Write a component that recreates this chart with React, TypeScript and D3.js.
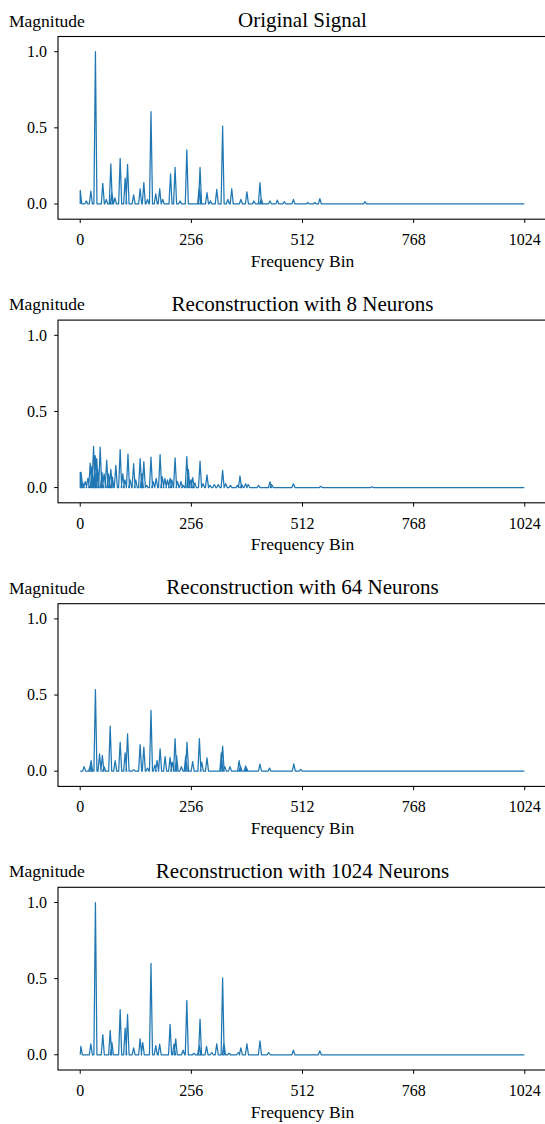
import React, { useEffect, useRef } from 'react';
import * as d3 from 'd3';

// panel titles and shared ticks
const titles = [
  'Original Signal',
  'Reconstruction with 8 Neurons',
  'Reconstruction with 64 Neurons',
  'Reconstruction with 1024 Neurons',
];
const xTicks = [0, 256, 512, 768, 1024];
const yTicks = [0, 0.5, 1.0];
const lastBin = 1023;

// peak bins / magnitudes
const originalBins = [0, 14, 24.5, 35, 52, 60, 70.5, 73, 80, 92, 103.5, 109, 123, 138, 146.5, 155, 163, 174, 183, 190, 208, 218.5, 230, 245.5, 274, 276, 292, 300, 314.5, 328, 340, 349, 370, 384, 400, 414, 417, 437, 454, 470, 491, 524, 540, 552, 656];
const originalMags = [0.09, 0.02, 0.085, 1.0, 0.136, 0.03, 0.263, 0.08, 0.04, 0.30, 0.17, 0.26, 0.06, 0.10, 0.14, 0.03, 0.606, 0.066, 0.10, 0.03, 0.197, 0.24, 0.02, 0.355, 0.114, 0.24, 0.075, 0.02, 0.096, 0.512, 0.03, 0.10, 0.03, 0.079, 0.02, 0.14, 0.035, 0.02, 0.025, 0.015, 0.03, 0.01, 0.01, 0.035, 0.015];

const n8Bins = [0, 2, 6, 11.5, 17.6, 23, 27, 30.7, 34.5, 38, 40, 46, 50, 55, 61, 65, 70.5, 74, 82, 92, 98, 103, 110, 115, 123, 128, 138, 142, 146.5, 153, 163, 168, 175, 184, 189, 195, 201, 207, 211, 218.5, 224, 232, 237, 245.5, 249, 255, 259, 264, 276, 283, 292, 299, 309, 318, 328, 335, 346, 362, 368, 372, 381, 387, 411, 437, 441, 491, 554, 672];
const n8Mags = [0.10, 0.10, 0.03, 0.04, 0.06, 0.16, 0.14, 0.27, 0.21, 0.19, 0.12, 0.266, 0.10, 0.09, 0.18, 0.09, 0.12, 0.07, 0.146, 0.25, 0.09, 0.05, 0.22, 0.05, 0.157, 0.05, 0.19, 0.09, 0.17, 0.015, 0.20, 0.04, 0.06, 0.217, 0.07, 0.06, 0.05, 0.06, 0.05, 0.195, 0.04, 0.04, 0.015, 0.204, 0.12, 0.05, 0.065, 0.03, 0.173, 0.025, 0.083, 0.015, 0.02, 0.02, 0.113, 0.025, 0.015, 0.015, 0.076, 0.02, 0.025, 0.02, 0.015, 0.037, 0.02, 0.025, 0.008, 0.005];

const n64Bins = [9, 23, 25, 35, 44.5, 51, 55, 69, 80.5, 92, 103.5, 109, 123, 138, 146.5, 155, 163, 172, 177, 184, 195.5, 207, 212, 218.5, 222, 233, 243, 246, 259, 274.5, 280, 292, 325, 328, 333, 345, 366, 369, 381, 383, 414, 436, 492, 508];
const n64Mags = [0.03, 0.037, 0.07, 0.536, 0.114, 0.103, 0.03, 0.296, 0.07, 0.19, 0.12, 0.245, 0.01, 0.175, 0.158, 0.02, 0.40, 0.04, 0.07, 0.147, 0.096, 0.09, 0.06, 0.213, 0.10, 0.03, 0.10, 0.19, 0.063, 0.213, 0.06, 0.088, 0.12, 0.165, 0.03, 0.03, 0.07, 0.035, 0.035, 0.02, 0.046, 0.02, 0.048, 0.012];

const n1024Bins = [1.5, 24.5, 35, 52, 69, 73, 92, 103.5, 109, 123, 138, 144, 163, 174, 183, 207, 216, 220, 237, 245.5, 262, 274, 276, 291, 303, 314.5, 328, 331, 343, 364, 370, 384, 414, 434, 491, 552];
const n1024Mags = [0.055, 0.072, 1.0, 0.133, 0.16, 0.08, 0.297, 0.175, 0.265, 0.045, 0.105, 0.08, 0.60, 0.06, 0.07, 0.20, 0.07, 0.105, 0.03, 0.356, 0.01, 0.065, 0.234, 0.055, 0.015, 0.072, 0.505, 0.08, 0.01, 0.015, 0.045, 0.072, 0.092, 0.015, 0.03, 0.025];

const panelBins = [originalBins, n8Bins, n64Bins, n1024Bins];
const panelMags = [originalMags, n8Mags, n64Mags, n1024Mags];

function App() {
  const ref = useRef<SVGSVGElement>(null);

  useEffect(() => {
    if (!ref.current) return;
    const svg = d3.select(ref.current);
    svg.selectAll('*').remove();

    const left = 58, right = 547;
    const firstTop = 36.5, step = 283.6, plotH = 182.7;
    const halfWidth = 3.5;

    const x = d3.scaleLinear().domain([-51.2, 1075.2]).range([left, right]);

    titles.forEach((title, i) => {
      const top = firstTop + i * step;
      const bottom = top + plotH;
      const y = d3.scaleLinear().domain([-0.1, 1.1]).range([bottom, top]);
      const g = svg.append('g');

      // spectrum line: each peak as a narrow spike off the zero baseline
      const bins = panelBins[i];
      const mags = panelMags[i];
      const pts: [number, number][] = [[0, 0]];
      bins.forEach((b, k) => {
        pts.push([Math.max(0, b - halfWidth), 0]);
        pts.push([b, mags[k]]);
        pts.push([b + halfWidth, 0]);
      });
      pts.push([lastBin, 0]);

      const line = d3.line<[number, number]>()
        .x(d => x(d[0]))
        .y(d => y(d[1]));

      g.append('path')
        .datum(pts)
        .attr('d', line)
        .attr('fill', 'none')
        .attr('stroke', '#1f77b4')
        .attr('stroke-width', 1.25)
        .attr('stroke-linejoin', 'round');

      // axes frame
      g.append('rect')
        .attr('x', left)
        .attr('y', top)
        .attr('width', right - left)
        .attr('height', plotH)
        .attr('fill', 'none')
        .attr('stroke', '#000')
        .attr('stroke-width', 1.1);

      // y ticks
      yTicks.forEach(t => {
        g.append('line')
          .attr('x1', left - 3.8).attr('x2', left)
          .attr('y1', y(t)).attr('y2', y(t))
          .attr('stroke', '#000').attr('stroke-width', 1);
        g.append('text')
          .attr('x', left - 11)
          .attr('y', y(t))
          .attr('dy', '0.33em')
          .attr('text-anchor', 'end')
          .attr('font-size', 16)
          .text(d3.format('.1f')(t));
      });

      // x ticks
      xTicks.forEach(t => {
        g.append('line')
          .attr('x1', x(t)).attr('x2', x(t))
          .attr('y1', bottom).attr('y2', bottom + 3.8)
          .attr('stroke', '#000').attr('stroke-width', 1);
        g.append('text')
          .attr('x', x(t))
          .attr('y', bottom + 26)
          .attr('text-anchor', 'middle')
          .attr('font-size', 16)
          .text(t);
      });

      g.append('text')
        .attr('x', (left + right) / 2)
        .attr('y', bottom + 47.5)
        .attr('text-anchor', 'middle')
        .attr('font-size', 17.5)
        .text('Frequency Bin');

      g.append('text')
        .attr('x', 9)
        .attr('y', top - 10)
        .attr('font-size', 17.5)
        .text('Magnitude');

      g.append('text')
        .attr('x', (left + right) / 2)
        .attr('y', top - 9.5)
        .attr('text-anchor', 'middle')
        .attr('font-size', 21)
        .text(title);
    });
  }, []);

  return (
    <svg
      ref={ref}
      width={545}
      height={1124}
      style={{
        position: 'absolute',
        left: 0,
        top: 0,
        background: '#fff',
        fontFamily: "'Liberation Serif', 'Times New Roman', serif",
        fill: '#000',
      }}
    />
  );
}

export default App;
